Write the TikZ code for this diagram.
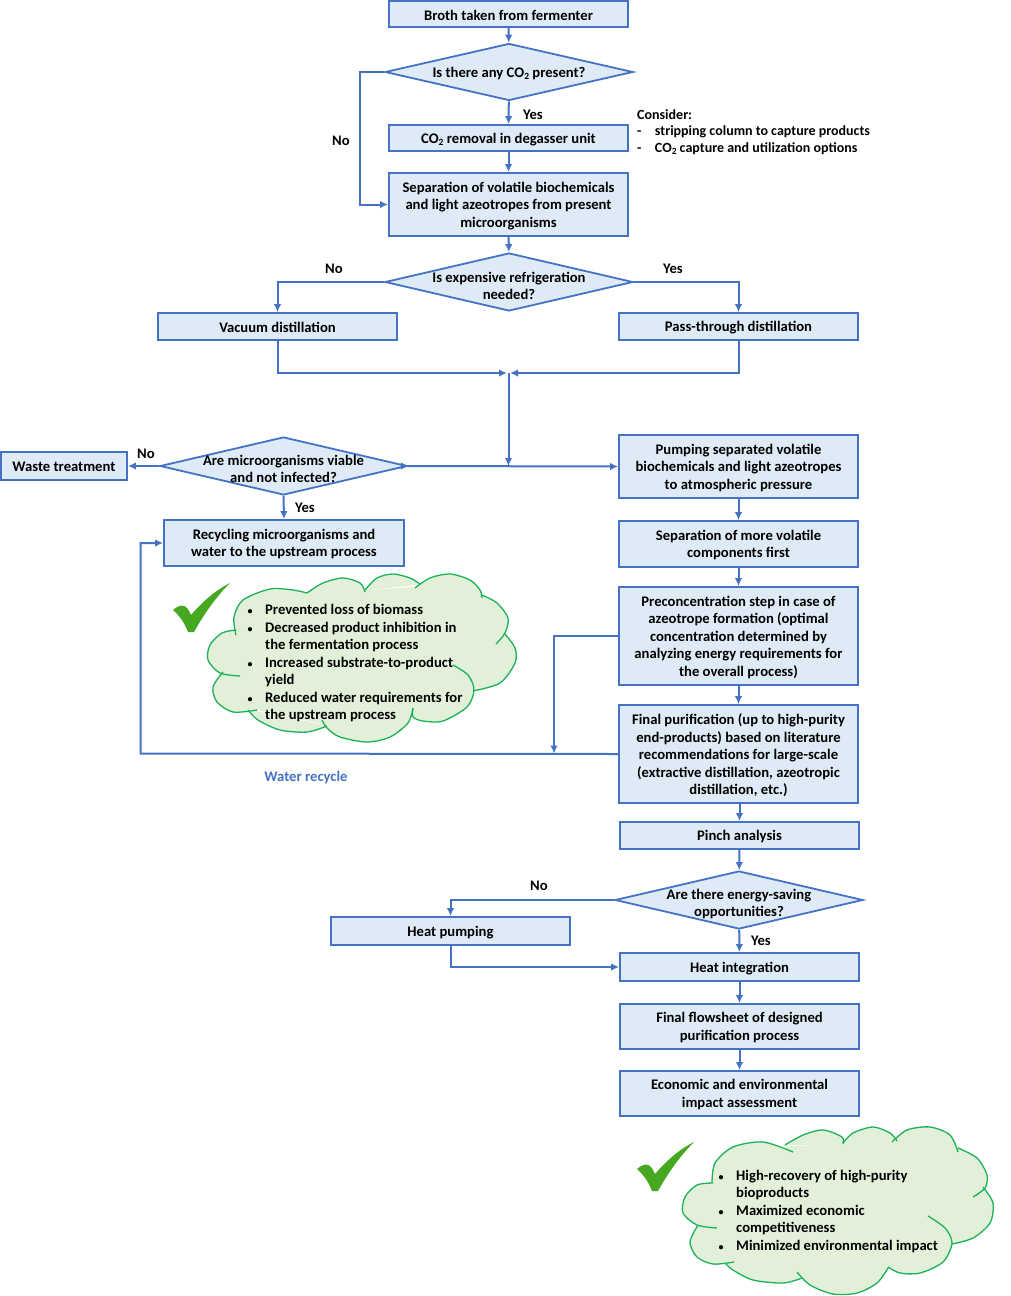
\documentclass[tikz,border=0pt]{standalone}
\usepackage{fontspec}
\setmainfont{Carlito}[BoldFont={Carlito Bold}]
\usetikzlibrary{shapes.geometric,arrows.meta,calc}
\definecolor{lnblue}{HTML}{4472C4}
\definecolor{fillblue}{HTML}{DEEBF7}
\definecolor{cloudfill}{HTML}{E2F0D9}
\definecolor{cloudline}{HTML}{1DB25A}
\definecolor{checkgreen}{HTML}{45A820}
\newcommand{\subtwo}{\raisebox{-0.3ex}{\fontsize{9.5}{10}\selectfont 2}}
\newcommand{\lobefill}[1]{\filldraw[fill=cloudfill,draw=cloudfill,line width=1pt] plot[smooth] coordinates {#1} -- cycle;}
\newcommand{\lobedraw}[1]{\draw[cloudline,line width=1.3pt] plot[smooth] coordinates {#1};}
\newcommand{\cloudA}[1]{%
 #1{(236,635)(234,617)(243,600)(270,589)(293,590)(307,593)}
 #1{(307,593)(323,583)(343,578)(360,583)(365,592)}
 #1{(365,590)(377,578)(393,574)(410,578)(420,584)}
 #1{(415,588)(430,578)(450,574)(470,580)(480,590)(482,598)}
 #1{(482,595)(497,603)(508,618)(505,633)(496,644)}
 #1{(505,634)(515,648)(515,663)(500,683)(473,691)}
 #1{(453,665)(468,675)(474,690)(467,707)(443,721)(423,721)(413,717)(413,708)}
 #1{(413,708)(408,723)(390,737)(367,742)(340,737)(327,728)(322,720)}
 #1{(327,726)(307,732)(280,730)(258,720)(248,710)}
 #1{(257,710)(233,712)(217,702)(213,687)(223,672)}
 #1{(240,676)(220,673)(208,660)(210,645)(222,633)(236,630)}}
\newcommand{\cloudB}[1]{%
 #1{(712,1183)(715,1163)(733,1147)(763,1142)(793,1152)}
 #1{(785,1145)(803,1135)(823,1130)(842,1137)(843,1144)}
 #1{(843,1143)(853,1133)(873,1127)(890,1133)(897,1141)}
 #1{(892,1142)(907,1130)(930,1127)(950,1135)(958,1152)}
 #1{(958,1148)(977,1158)(987,1175)(985,1188)(973,1197)}
 #1{(983,1187)(993,1203)(990,1223)(973,1238)(952,1244)}
 #1{(928,1216)(945,1228)(952,1243)(943,1262)(920,1273)(900,1273)(888,1267)}
 #1{(888,1268)(877,1283)(857,1293)(833,1294)(810,1285)(797,1272)}
 #1{(802,1278)(783,1283)(753,1280)(733,1270)(725,1263)}
 #1{(734,1262)(713,1264)(697,1257)(690,1242)(698,1225)}
 #1{(717,1228)(697,1225)(683,1213)(685,1197)(697,1185)(713,1183)}}
\tikzset{
 every node/.style={font=\fontsize{14.65}{17.5}\selectfont\bfseries},
 boxnode/.style={draw=lnblue,fill=fillblue,line width=1.8pt,inner sep=0pt},
 decision/.style={diamond,draw=lnblue,fill=fillblue,line width=1.8pt,inner sep=0pt,aspect=4.3},
 dlabel/.style={align=center,inner sep=0pt,fill=none,yshift=-1.2pt},
 link/.style={draw=lnblue,line width=2pt,-{Latex[length=8pt,width=7.5pt]}},
 ann/.style={inner sep=0pt,text=black},
 textblock/.style={inner sep=0pt,align=left,anchor=north west},
 checkmark/.style={fill=checkgreen,draw=none}
}
\newcommand{\rbox}[7][]{\node[boxnode,minimum width=#4pt-#3pt,minimum height=#6pt-#5pt,label={[dlabel]center:{#7}},#1] (#2) at ({(#3+#4)/2},{(#5+#6)/2}) {};}
\newcommand{\checkshape}{ (173,610) .. controls (178,605) and (184,604) .. (187,608) .. controls (189,610) and (190,613) .. (191,615)
  .. controls (203,601) and (216,590) .. (230,583) .. controls (216,597) and (204,614) .. (194,632) -- (188,632)
  .. controls (185,624) and (180,616) .. (173,610) -- cycle}
\begin{document}
\begin{tikzpicture}[x=1pt,y=-1pt]
\useasboundingbox (0,0) rectangle (1010,1296);
% boxes
\rbox{broth}{389}{628}{1}{27}{Broth taken from fermenter}
\node[decision,minimum width=248pt,minimum height=57pt,label={[dlabel,yshift=-0.6pt]center:{Is there any CO\subtwo\ present?}}] (co2q) at (509,72) {};
\rbox{degas}{389}{628}{125}{151}{CO\subtwo\ removal in degasser unit}
\rbox{sepvol}{389}{628}{173}{236}{Separation of volatile biochemicals\\and light azeotropes from present\\microorganisms}
\node[decision,minimum width=248pt,minimum height=58pt,label={[dlabel,yshift=-2.8pt]center:{Is expensive refrigeration\\needed?}}] (refq) at (509,282) {};
\rbox{vac}{158}{397}{313}{340}{Vacuum distillation}
\rbox{pass}{619}{858}{313}{340}{Pass-through distillation}
\coordinate (merge) at (508.5,373);
\node[decision,minimum width=247pt,minimum height=58pt,label={[dlabel,yshift=-1.8pt]center:{Are microorganisms viable\\and not infected?}}] (viaq) at (283.5,466) {};
\rbox{waste}{0.8}{127}{452}{480}{Waste treatment}
\rbox{pump}{619}{858}{435}{498}{Pumping separated volatile\\biochemicals and light azeotropes\\to atmospheric pressure}
\rbox{recyc}{164}{404}{520}{566}{Recycling microorganisms and\\water to the upstream process}
\rbox{moresep}{619}{858}{521}{567}{Separation of more volatile\\components first}
\rbox{precon}{619}{858}{587}{685}{Preconcentration step in case of\\azeotrope formation (optimal\\concentration determined by\\analyzing energy requirements for\\the overall process)}
\rbox{finalp}{619}{858}{705}{803}{Final purification (up to high-purity\\end-products) based on literature\\recommendations for large-scale\\(extractive distillation, azeotropic\\distillation, etc.)}
\rbox{pinch}{620}{859}{822}{849}{Pinch analysis}
\node[decision,minimum width=248pt,minimum height=58pt,label={[dlabel,yshift=-2.8pt]center:{Are there energy-saving\\opportunities?}}] (enq) at (739,900) {};
\rbox{hpump}{331}{570}{917}{945}{Heat pumping}
\rbox{hint}{620}{859}{953}{981}{Heat integration}
\rbox{flow}{620}{859}{1004}{1049}{Final flowsheet of designed\\purification process}
\rbox{econ}{620}{859}{1071}{1116}{Economic and environmental\\impact assessment}
% connectors
\draw[link] (broth) -- (co2q);
\draw[link] (co2q) -- (degas);
\draw[link] (degas) -- (sepvol);
\draw[link] (co2q.west) -- (360,72) |- (sepvol.west);
\draw[link] (sepvol) -- (refq);
\draw[link] (refq.west) -| (vac.north);
\draw[link] (refq.east) -| (pass.north);
\draw[link] (vac.south) |- ($(merge)+(-1.5,0)$);
\draw[link] (pass.south) |- ($(merge)+(1.5,0)$);
\coordinate (junct) at (508.5,466);
\draw[link] (merge) -- (junct);
\draw[link] (viaq.east) -- (pump.west);
\draw[link] ($(viaq.east)+(-7,0)$) -- ($(viaq.east)+(1,0)$);
\draw[link] (viaq.west) -- (waste.east);
\draw[link] (viaq.south) -- (recyc.north);
\draw[link] (pump) -- (moresep);
\draw[link] (moresep) -- (precon);
\draw[link] (precon) -- (finalp);
\draw[link] (finalp.south -| pinch) -- (pinch);
\draw[link] (pinch) -- (enq);
\draw[link] (enq) -- (hint);
\draw[link] (hint) -- (flow);
\draw[link] (flow) -- (econ);
\draw[link] (enq.west) -| (hpump.north);
\draw[link] (hpump.south) |- (hint.west);
\coordinate (waterjoin) at (554,753.5);
\draw[link] (precon.west) -| (waterjoin);
\draw[link] (finalp.west) -- (140.5,753.5) |- (recyc.west);
% clouds
\filldraw[fill=cloudfill,draw=cloudfill,line width=1pt] (236,632)--(307,593)--(365,591)--(417,587)--(482,597)--(505,634)--(473,691)--(413,708)--(325,724)--(250,708)--(225,672)--cycle;
\cloudA{\lobefill}
\cloudA{\lobedraw}
\filldraw[fill=cloudfill,draw=cloudfill,line width=1pt] (713,1183)--(787,1147)--(843,1144)--(893,1141)--(958,1150)--(985,1190)--(952,1244)--(888,1268)--(802,1278)--(725,1263)--(697,1225)--cycle;
\cloudB{\lobefill}
\cloudB{\lobedraw}
\fill[checkmark] \checkshape;
\begin{scope}[shift={(464,559)}]
\fill[checkmark] \checkshape;
\end{scope}
% annotations
\node[ann] (lno1) at (341,141) {No};
\node[ann] (lyes1) at (533,115) {Yes};
\node[ann] (lno2) at (334,269) {No};
\node[ann] (lyes2) at (673,269) {Yes};
\node[ann] (lno3) at (146,454) {No};
\node[ann] (lyes3) at (305,508) {Yes};
\node[ann] (lno4) at (539,886) {No};
\node[ann] (lyes4) at (761,941) {Yes};
\node[ann,text=lnblue] (lwater) at (306,777.5) {Water recycle};
\node[textblock,font=\fontsize{14}{16.7}\selectfont\bfseries] (consider) at (637,109) {Consider:\\-\hspace{13.5pt}stripping column to capture products\\-\hspace{13.5pt}CO\subtwo\ capture and utilization options};
\newcommand{\bul}{\llap{{\fontsize{10}{10}\selectfont\textbullet}\hspace{12.5pt}}}
\node[textblock] (benefitsA) at (265,604.3) {\bul Prevented loss of biomass\\\bul Decreased product inhibition in\\the fermentation process\\\bul Increased substrate-to-product\\yield\\\bul Reduced water requirements for\\the upstream process};
\node[textblock] (benefitsB) at (736,1170) {\bul High-recovery of high-purity\\bioproducts\\\bul Maximized economic\\competitiveness\\\bul Minimized environmental impact};
\end{tikzpicture}
\end{document}
